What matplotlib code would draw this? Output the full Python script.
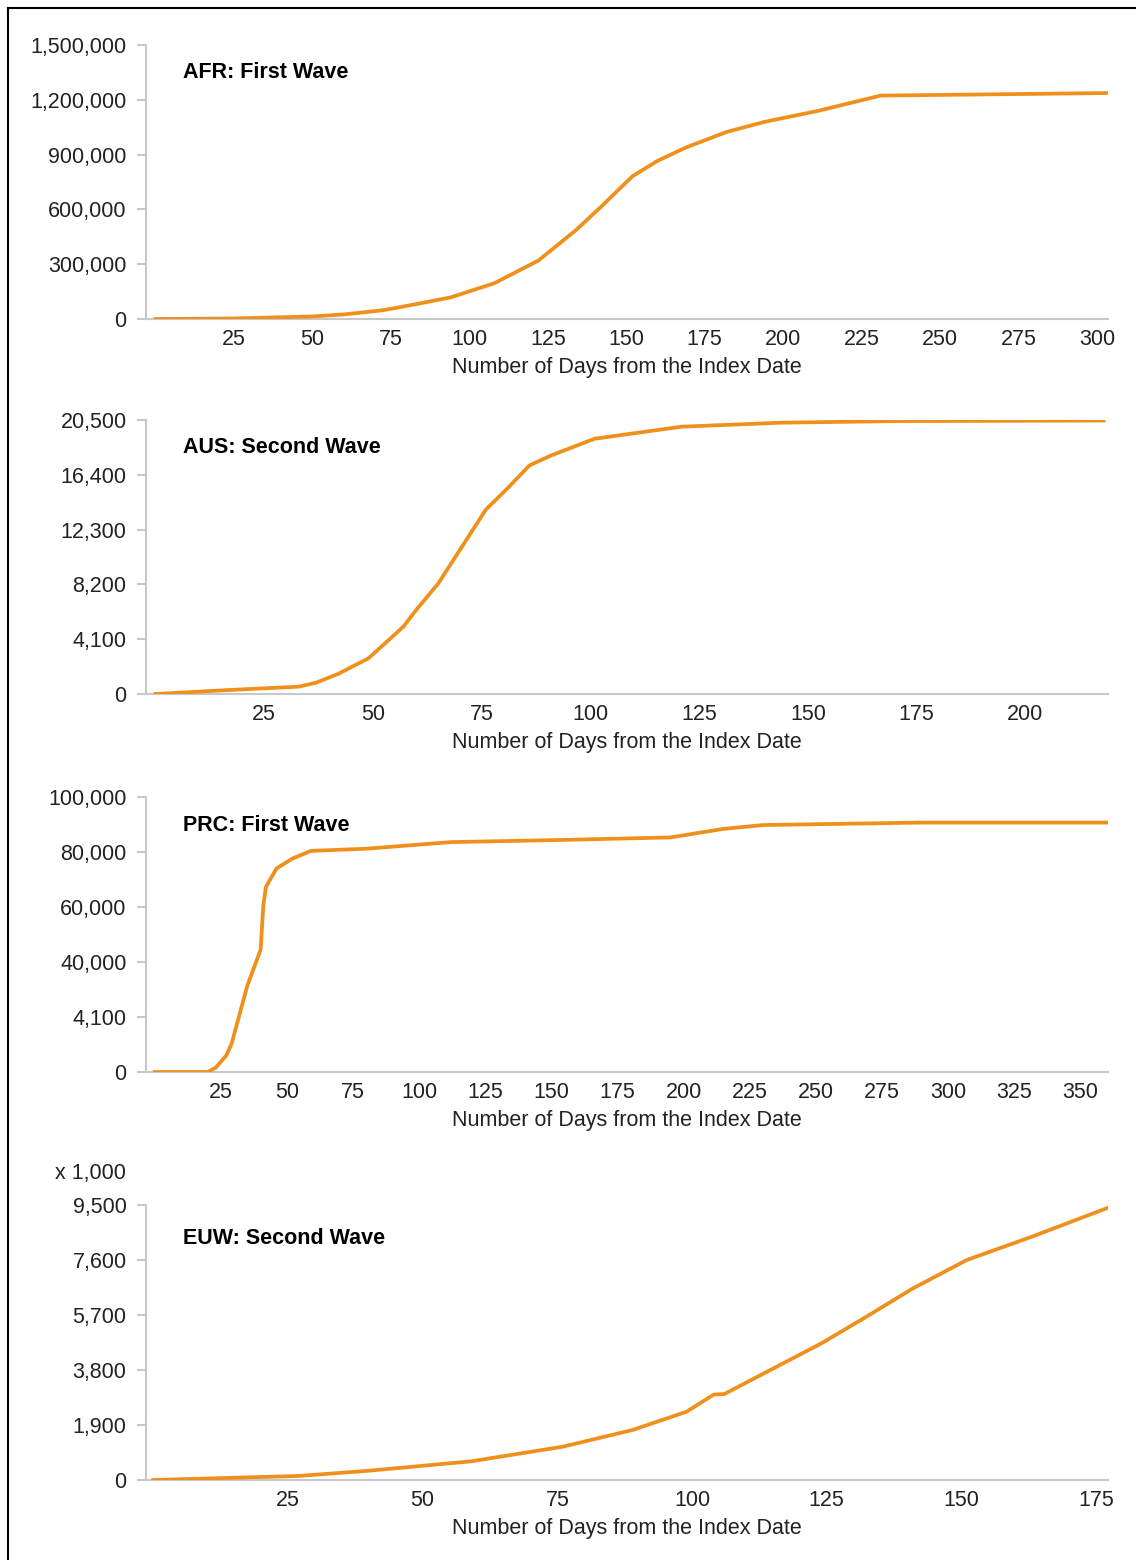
import matplotlib
matplotlib.use("Agg")
import matplotlib.pyplot as plt
from matplotlib.lines import Line2D
from matplotlib.ticker import FuncFormatter

# values
afr_days = [0, 25, 50, 60, 72, 78, 94, 108, 122, 134, 142, 152, 160, 169, 182, 194, 211, 231, 303]
afr_cases = [0, 3000, 14000, 25000, 47000, 65000, 118000, 196000, 320000, 487000, 615000, 782000,
             866000, 939000, 1024000, 1079000, 1139000, 1223000, 1237000]

aus_days = [0, 17, 33, 37, 42, 49, 57, 60, 65, 69, 76, 81, 86, 91, 101, 121, 144, 171, 218]
aus_cases = [0, 300, 550, 850, 1500, 2670, 5030, 6300, 8250, 10270, 13800, 15400, 17100, 17850,
             19100, 20000, 20300, 20420, 20460]

prc_days = [0, 20, 23, 27, 29, 35, 40, 41, 42, 46, 52, 59, 80, 112, 150, 195, 215, 230, 290, 360]
prc_cases = [0, 0, 1600, 6000, 10300, 31500, 44500, 60500, 67300, 74000, 77600, 80400, 81200,
             83600, 84300, 85300, 88400, 89800, 90700, 90700]

euw_days = [0, 27, 40, 55, 59, 76, 89, 99, 104, 106, 124, 132, 141, 151, 163, 177]
euw_cases = [0, 140, 320, 577, 645, 1150, 1730, 2360, 2950, 2970, 4720, 5600, 6620, 7600, 8400, 9390]  # x 1,000

titles = ["AFR: First Wave", "AUS: Second Wave", "PRC: First Wave", "EUW: Second Wave"]
x_ticks = [range(25, 301, 25), range(25, 201, 25), range(25, 351, 25), range(25, 176, 25)]
y_ticks = [range(0, 1500001, 300000), range(0, 20501, 4100), range(0, 100001, 20000), range(0, 9501, 1900)]
prc_ylabels = ["0", "4,100", "40,000", "60,000", "80,000", "100,000"]

plt.rcParams["font.family"] = ["Liberation Sans", "DejaVu Sans"]
plt.rcParams["font.size"] = 15.5

ORANGE = "#F0901C"
GREY = "#C8C8C8"
TEXT = "#222222"

fig = plt.figure(figsize=(11.36, 15.6), dpi=100)

# (bottom px, top px, xlim)
layout = [(319, 45, (-3.03, 303.5)),
          (694, 420, (-2.14, 219.0)),
          (1072, 797, (-3.37, 360.5)),
          (1480, 1205, (-1.34, 177.2))]


def draw_panel(i, days, cases):
    bot, top, xlim = layout[i]
    ax = fig.add_axes([146 / 1136, 1 - bot / 1560, 962 / 1136, (bot - top) / 1560])
    ax.plot(days, cases, color=ORANGE, lw=2.7, solid_joinstyle="round")
    ax.set_xlim(*xlim)
    ax.set_ylim(y_ticks[i][0], y_ticks[i][-1])
    ax.set_xticks(list(x_ticks[i]))
    ax.set_yticks(list(y_ticks[i]))
    ax.yaxis.set_major_formatter(FuncFormatter(lambda v, p: f"{int(v):,}"))
    for s in ["top", "right"]:
        ax.spines[s].set_visible(False)
    for s in ["left", "bottom"]:
        ax.spines[s].set_color(GREY)
        ax.spines[s].set_linewidth(1.5)
    ax.tick_params(axis="y", length=6.5, width=1.5, color=GREY, pad=7.5, labelcolor=TEXT)
    ax.tick_params(axis="x", length=0, pad=7.5, labelcolor=TEXT)
    ax.spines["bottom"].set_zorder(1)
    ax.set_xlabel("Number of Days from the Index Date", color=TEXT, labelpad=5)
    ty = 0.88 if i == 3 else 0.898
    ax.text(37 / 962, ty, titles[i], transform=ax.transAxes, fontweight="bold",
            color="black", va="center", ha="left")
    return ax


draw_panel(0, afr_days, afr_cases)
draw_panel(1, aus_days, aus_cases)
ax3 = draw_panel(2, prc_days, prc_cases)
ax3.set_yticklabels(prc_ylabels)
ax4 = draw_panel(3, euw_days, euw_cases)
ax4.text(-20 / 962, 1 + 32 / 275, "x 1,000", transform=ax4.transAxes, ha="right", va="center", color=TEXT)

# outer frame (only left and top edges are inside the picture)
fig.add_artist(Line2D([8 / 1136, 8 / 1136], [0, 1 - 8 / 1560], color="black", lw=1.5, transform=fig.transFigure))
fig.add_artist(Line2D([8 / 1136, 1], [1 - 8 / 1560, 1 - 8 / 1560], color="black", lw=1.5, transform=fig.transFigure))

fig.savefig("out.png", dpi=100, facecolor="white")
